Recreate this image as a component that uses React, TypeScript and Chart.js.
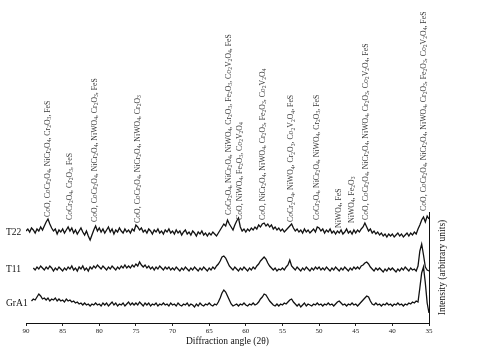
import React, { useEffect, useRef } from "react";
import { Chart, registerables } from "chart.js";

Chart.register(...registerables);

const FONT = "'Liberation Serif', 'Times New Roman', serif";

// Sampling grid: 90 -> 35 degrees, 0.25 deg per sample
const ANGLE_START = 90;
const ANGLE_STEP = 0.25;

const T22 = [
  92, 94, 91, 95, 93, 90, 94, 92, 96, 93, 97, 101, 104, 99, 95, 92, 94, 89, 93, 91,
  94, 90, 93, 96, 92, 95, 90, 93, 89, 92, 95, 91, 88, 92, 87, 83, 88, 93, 97, 92,
  95, 91, 94, 90, 93, 96, 91, 94, 89, 93, 91, 95, 92, 90, 94, 91, 93, 90, 94, 92,
  98, 96, 93, 95, 91, 93, 90, 94, 92, 89, 93, 91, 94, 90, 92, 89, 93, 91, 94, 90,
  92, 89, 93, 90, 92, 88, 91, 93, 89, 91, 88, 92, 90, 87, 91, 89, 92, 88, 90, 87,
  90, 88, 91, 89, 87, 90, 93, 96, 99, 97, 103, 99, 96, 93, 98, 102, 105, 96, 92, 94,
  91, 94, 92, 95, 93, 96, 94, 98, 96, 99, 100, 97, 99, 96, 98, 94, 96, 93, 95, 92,
  94, 91, 93, 95, 97, 99, 95, 92, 94, 91, 93, 90, 94, 91, 93, 90, 92, 94, 91, 96,
  95, 92, 94, 90, 93, 91, 94, 90, 92, 89, 92, 90, 93, 89, 91, 94, 90, 92, 89, 93,
  90, 93, 91, 94, 96, 100, 96, 92, 94, 90, 92, 89, 91, 88, 90, 87, 89, 86, 89, 87,
  89, 86, 88, 90, 87, 89, 86, 88, 90, 87, 90, 88, 91, 89, 94, 98, 103, 106, 101, 107,
  104,
];

const T11 = [
  null, null, null, null, 55, 53, 56, 54, 57, 55, 53, 56, 54, 57, 55, 52, 55, 53, 56, 54,
  52, 55, 53, 56, 54, 57, 53, 55, 52, 56, 54, 57, 53, 55, 52, 56, 54, 57, 55, 58,
  56, 54, 57, 55, 53, 56, 54, 57, 55, 53, 56, 54, 57, 55, 58, 55, 57, 55, 58, 56,
  59, 57, 61, 58, 56, 58, 55, 57, 54, 56, 53, 56, 54, 57, 55, 53, 56, 54, 56, 53,
  55, 53, 56, 54, 52, 55, 53, 56, 54, 52, 55, 53, 56, 54, 52, 55, 53, 56, 54, 52,
  55, 53, 56, 54, 57, 59, 62, 66, 67, 65, 61, 57, 55, 53, 56, 54, 52, 55, 53, 56,
  54, 52, 55, 53, 56, 54, 57, 59, 62, 64, 66, 64, 60, 57, 55, 53, 55, 52, 54, 53,
  55, 53, 56, 58, 63, 57, 55, 53, 56, 54, 52, 55, 53, 56, 54, 52, 55, 53, 56, 54,
  56, 53, 55, 53, 56, 54, 52, 55, 53, 56, 54, 52, 55, 53, 56, 54, 52, 55, 53, 56,
  54, 56, 54, 57, 58, 60, 61, 59, 56, 54, 52, 55, 53, 55, 53, 51, 54, 52, 55, 53,
  55, 53, 51, 54, 52, 55, 53, 56, 54, 52, 55, 53, 54, 52, 57, 72, 79, 68, 56, 53,
  52,
];

const GRA1 = [
  null, null, null, 22, 24, 23, 26, 29, 27, 24, 25, 23, 25, 22, 24, 23, 25, 22, 24, 22,
  23, 21, 24, 22, 23, 21, 22, 20, 21, 19, 20, 18, 20, 18, 19, 17, 19, 18, 20, 18,
  19, 17, 20, 18, 20, 17, 19, 21, 18, 20, 17, 19, 18, 20, 17, 19, 21, 18, 20, 18,
  20, 18, 21, 19, 17, 20, 18, 20, 17, 19, 18, 20, 17, 19, 18, 20, 18, 19, 17, 20,
  18, 19, 17, 20, 18, 17, 19, 18, 20, 17, 19, 18, 16, 19, 17, 20, 18, 17, 19, 18,
  20, 18, 17, 19, 18, 21, 25, 30, 33, 31, 27, 23, 19, 17, 18, 19, 17, 19, 18, 20,
  18, 17, 19, 18, 20, 18, 19, 21, 24, 26, 29, 28, 25, 22, 20, 18, 17, 19, 17, 19,
  18, 20, 19, 21, 23, 24, 21, 19, 17, 19, 16, 18, 20, 17, 19, 18, 17, 19, 18, 20,
  18, 19, 17, 19, 18, 20, 18, 19, 17, 19, 21, 22, 20, 18, 19, 17, 19, 18, 20, 18,
  19, 17, 19, 21, 23, 25, 27, 26, 22, 19, 18, 20, 18, 19, 17, 19, 18, 20, 18, 19,
  17, 19, 18, 20, 18, 19, 17, 19, 18, 20, 19, 21, 20, 22, 21, 35, 50, 56, 40, 20,
  10,
];

const SERIES_NAMES = ["T22", "T11", "GrA1"];
const SERIES_VALUES = [T22, T11, GRA1];
const SERIES_LABEL_LEVEL = [91, 54, 20];

const X_TICKS = [90, 85, 80, 75, 70, 65, 60, 55, 50, 45, 40, 35];

const PEAK_ANGLES = [87.0, 84.0, 80.6, 74.7, 62.3, 60.8, 57.7, 53.8, 50.3, 47.3, 45.5, 43.6, 35.7];
const PEAK_LABEL_BASE = [106, 103, 101, 100, 108, 103, 103, 101, 103, 95, 100, 103, 112];
const PEAK_LABELS = [
  "CoO, CoCr2O4, NiCr2O4, Cr2O3, FeS",
  "CoCr2O4, Cr2O3, FeS",
  "CoO, CoCr2O4, NiCr2O4, NiWO4, Cr2O3, FeS",
  "CoO, CoCr2O4, NiCr2O4, NiWO4, Cr2O3",
  "CoCr2O4, NiCr2O4, NiWO4, Cr2O3, Fe2O3, Co2V2O4, FeS",
  "CoO, NiWO4, Fe2O3, Co2V2O4",
  "CoO, NiCr2O4, NiWO4, Cr2O3, Fe2O3, Co2V2O4",
  "CoCr2O4, NiWO4, Cr2O3, Co2V2O4, FeS",
  "CoCr2O4, NiCr2O4, NiWO4, Cr2O3, FeS",
  "NiWO4, FeS",
  "NiWO4, Fe2O3",
  "CoO, CoCr2O4, NiCr2O4, NiWO4, Cr2O3, Co2V2O4, FeS",
  "CoO, CoCr2O4, NiCr2O4, NiWO4, Cr2O3, Fe2O3, Co2V2O4, FeS",
];

const X_TITLE = "Diffraction angle (2θ)";
const Y_TITLE = "Intensity (arbitrary units)";

function drawChem(ctx: CanvasRenderingContext2D, text: string) {
  const parts = text.match(/\d+|[^\d]+/g) || [];
  let x = 0;
  ctx.textAlign = "left";
  ctx.textBaseline = "middle";
  for (const p of parts) {
    const sub = /^\d+$/.test(p);
    ctx.font = sub ? `5.6px ${FONT}` : `7.8px ${FONT}`;
    ctx.fillText(p, x, sub ? 1.8 : 0);
    x += ctx.measureText(p).width;
  }
}

const overlayPlugin = {
  id: "xrdOverlay",
  afterDatasetsDraw(chart: any) {
    const ctx: CanvasRenderingContext2D = chart.ctx;
    const xs = chart.scales.x;
    const ys = chart.scales.y;
    const area = chart.chartArea;
    ctx.save();
    ctx.fillStyle = "#3a3a3a";
    PEAK_ANGLES.forEach((a, i) => {
      const px = xs.getPixelForValue(a);
      const py = ys.getPixelForValue(PEAK_LABEL_BASE[i]);
      ctx.save();
      ctx.translate(px, py);
      ctx.rotate(-Math.PI / 2);
      drawChem(ctx, PEAK_LABELS[i]);
      ctx.restore();
    });
    ctx.fillStyle = "#111";
    ctx.font = `9.5px ${FONT}`;
    ctx.textAlign = "left";
    ctx.textBaseline = "middle";
    SERIES_NAMES.forEach((n, i) => {
      ctx.fillText(n, area.left - 20, ys.getPixelForValue(SERIES_LABEL_LEVEL[i]));
    });
    ctx.save();
    ctx.translate(area.right + 13, (area.top + area.bottom) / 2);
    ctx.rotate(-Math.PI / 2);
    ctx.textAlign = "center";
    ctx.fillText(Y_TITLE, 0, 0);
    ctx.restore();
    ctx.restore();
  },
};

export default function App() {
  const ref = useRef<HTMLCanvasElement | null>(null);
  useEffect(() => {
    if (!ref.current) return;
    const datasets = SERIES_VALUES.map((vals, s) => ({
      label: SERIES_NAMES[s],
      data: vals.map((v, i) => ({ x: ANGLE_START - i * ANGLE_STEP, y: v })),
      borderColor: "#111",
      borderWidth: 1.3,
      pointRadius: 0,
      tension: 0,
      fill: false,
    }));
    const chart = new Chart(ref.current, {
      type: "line",
      data: { datasets },
      plugins: [overlayPlugin],
      options: {
        animation: false,
        responsive: false,
        maintainAspectRatio: false,
        layout: { padding: { left: 26, right: 50, top: 212, bottom: 0 } },
        plugins: { legend: { display: false }, tooltip: { enabled: false } },
        scales: {
          x: {
            type: "linear",
            min: 35,
            max: 90,
            reverse: true,
            position: "bottom",
            afterBuildTicks: (s: any) => {
              s.ticks = X_TICKS.map((v) => ({ value: v }));
            },
            ticks: {
              font: { family: FONT, size: 7 },
              color: "#222",
              padding: 1,
              autoSkip: false,
              maxRotation: 0,
            },
            grid: { display: true, drawOnChartArea: false, drawTicks: true, tickLength: 3, color: "#222" },
            border: { display: true, color: "#111", width: 1 },
            title: {
              display: true,
              text: X_TITLE,
              font: { family: FONT, size: 9.5 },
              color: "#111",
              padding: { top: 0, bottom: 6 },
            },
            afterFit: (s: any) => {
              s.height = 30;
            },
          },
          y: {
            type: "linear",
            min: 0,
            max: 111,
            position: "right",
            ticks: { display: false },
            grid: { display: false, drawTicks: false },
            border: { display: true, color: "#111", width: 1 },
            afterFit: (s: any) => {
              s.width = 0;
            },
          },
        },
      } as any,
    });
    return () => chart.destroy();
  }, []);
  return (
    <div style={{ position: "absolute", left: 0, top: 0, width: 479, height: 353, background: "#fff" }}>
      <canvas ref={ref} width={479} height={353} style={{ display: "block" }} />
    </div>
  );
}
